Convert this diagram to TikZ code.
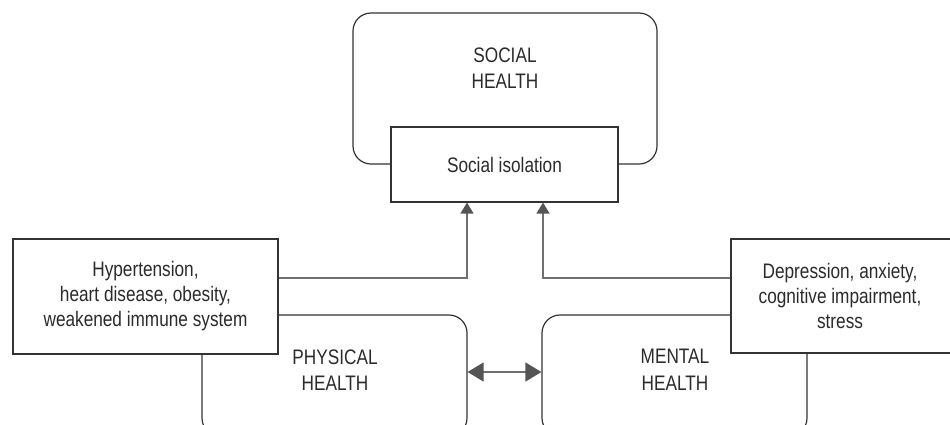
\documentclass[tikz,border=0pt]{standalone}
\usepackage{fontspec}
\setmainfont{Liberation Sans}
\newfontfamily\narrowfont[FakeStretch=0.82]{Liberation Sans}
\usetikzlibrary{arrows.meta}
\definecolor{boxline}{HTML}{333333}
\definecolor{connline}{HTML}{707070}
\definecolor{tipcol}{HTML}{555555}
\definecolor{txt}{HTML}{2b2b2b}
\tikzset{
  roundbox/.style={draw=boxline, line width=1.2pt, rounded corners=18pt, inner sep=0pt},
  rectbox/.style={draw=boxline, line width=1.2pt, fill=white, inner sep=0pt, text=txt, align=center, font=\narrowfont\fontsize{21}{25}\selectfont},
  lbl/.style={text=txt, align=center, font=\narrowfont\fontsize{21}{26.5}\selectfont, inner sep=0pt},
  conn/.style={draw=connline, line width=1.5pt},
  uptip/.style={-{Triangle[length=11pt,width=13pt,color=tipcol]}},
  dbltip/.style={{Triangle[length=16pt,width=19pt,color=tipcol]}-{Triangle[length=16pt,width=19pt,color=tipcol]}}
}
\begin{document}
\begin{tikzpicture}[x=1pt,y=-1pt]
\useasboundingbox (0,0) rectangle (950,424);
\clip (0,0) rectangle (950,424);
% rounded health boxes
\node[roundbox, minimum width=304pt, minimum height=151pt] (soc) at (505,88.5) {};
\node[roundbox, minimum width=265pt, minimum height=121pt] (phys) at (334.5,375.5) {};
\node[roundbox, minimum width=265pt, minimum height=121pt] (ment) at (674.5,375.5) {};
\node[lbl] (soclbl) at (505,68) {SOCIAL\\HEALTH};
\node[lbl] (physlbl) at (335,370) {PHYSICAL\\HEALTH};
\node[lbl] (mentlbl) at (675,370) {MENTAL\\HEALTH};
% rectangles
\node[rectbox, minimum width=227pt, minimum height=75pt] (iso) at (504.5,164.5) {Social isolation};
\node[rectbox, minimum width=265pt, minimum height=115pt] (hyp) at (145.5,296.5) {Hypertension,\\heart disease, obesity,\\weakened immune system};
\node[rectbox, minimum width=229pt, minimum height=114pt] (dep) at (845.5,296) {};
\node[text=txt, align=center, font=\narrowfont\fontsize{21}{25}\selectfont, inner sep=0pt] (deptxt) at (840,296) {Depression, anxiety,\\cognitive impairment,\\stress};
% connectors
\coordinate (lrow) at (0,278);
\coordinate (lx) at (467,0);
\coordinate (rx) at (543,0);
\coordinate (drow) at (0,372);
\draw[conn, uptip] (hyp.east |- lrow) -| (iso.south -| lx);
\draw[conn, uptip] (dep.west |- lrow) -| (iso.south -| rx);
\draw[conn, dbltip] (phys.east |- drow) -- (ment.west |- drow);
\end{tikzpicture}
\end{document}
